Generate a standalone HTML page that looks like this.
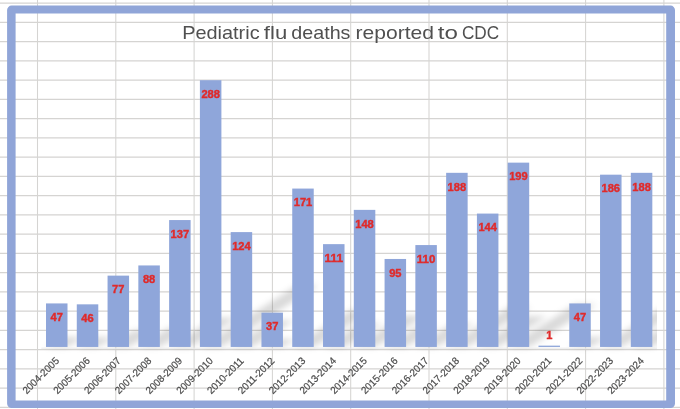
<!DOCTYPE html>
<html lang="en"><head><meta charset="utf-8"><title>Pediatric flu deaths reported to CDC</title>
<style>html,body{margin:0;padding:0;background:#fff}body{width:680px;height:409px;overflow:hidden}svg{display:block}</style></head>
<body>
<svg width="680" height="409" viewBox="0 0 680 409">
<defs><filter id="b" x="-10%" y="-30%" width="120%" height="160%"><feGaussianBlur stdDeviation="3"/></filter><clipPath id="pc"><rect x="41" y="60" width="616" height="300"/></clipPath></defs>
<rect width="680" height="409" fill="#fff"/>
<path d="M0 3.10H680M0 22.35H680M0 41.60H680M0 60.85H680M0 80.10H680M0 99.35H680M0 118.60H680M0 137.85H680M0 157.10H680M0 176.35H680M0 195.60H680M0 214.85H680M0 234.10H680M0 253.35H680M0 272.60H680M0 291.85H680M0 311.10H680M0 330.35H680M0 349.60H680M0 368.85H680M0 388.10H680M0 407.35H680M37.50 0V409M115.80 0V409M194.10 0V409M272.40 0V409M350.70 0V409M429.00 0V409M507.30 0V409M585.60 0V409M663.90 0V409" stroke="#D5D4D2" stroke-width="1.05" fill="none"/>
<g clip-path="url(#pc)"><g filter="url(#b)"><path d="M46.00 346.95L67.50 346.95L83.34 336.94L61.84 336.94ZM76.78 346.95L98.28 346.95L113.79 337.15L92.29 337.15ZM107.56 346.95L129.06 346.95L155.02 330.55L133.52 330.55ZM138.34 346.95L159.84 346.95L189.51 328.20L168.01 328.20ZM169.12 346.95L190.62 346.95L236.80 317.77L215.30 317.77ZM199.90 346.95L221.40 346.95L318.49 285.60L296.99 285.60ZM230.68 346.95L252.18 346.95L293.98 320.53L272.48 320.53ZM261.46 346.95L282.96 346.95L295.43 339.07L273.93 339.07ZM292.24 346.95L313.74 346.95L371.39 310.52L349.89 310.52ZM323.02 346.95L344.52 346.95L381.94 323.30L360.44 323.30ZM353.80 346.95L375.30 346.95L425.19 315.42L403.69 315.42ZM384.58 346.95L406.08 346.95L438.11 326.71L416.61 326.71ZM415.36 346.95L436.86 346.95L473.94 323.52L452.44 323.52ZM446.14 346.95L467.64 346.95L531.02 306.90L509.52 306.90ZM476.92 346.95L498.42 346.95L546.96 316.27L525.46 316.27ZM507.70 346.95L529.20 346.95L596.28 304.56L574.78 304.56ZM538.48 346.95L559.98 346.95L560.32 346.74L538.82 346.74ZM569.26 346.95L590.76 346.95L606.60 336.94L585.10 336.94ZM600.04 346.95L621.54 346.95L684.24 307.33L662.74 307.33ZM630.82 346.95L652.32 346.95L715.70 306.90L694.20 306.90Z" fill="#000" fill-opacity="0.15"/></g></g>
<path d="M41.3 348.2H657" stroke="#EAEAEA" stroke-width="1" fill="none"/>
<g fill="#8FA6DA"><rect x="46.00" y="303.42" width="21.5" height="43.53"/><rect x="76.78" y="304.34" width="21.5" height="42.61"/><rect x="107.56" y="275.63" width="21.5" height="71.32"/><rect x="138.34" y="265.44" width="21.5" height="81.51"/><rect x="169.12" y="220.06" width="21.5" height="126.89"/><rect x="199.90" y="80.20" width="21.5" height="266.75"/><rect x="230.68" y="232.10" width="21.5" height="114.85"/><rect x="261.46" y="312.68" width="21.5" height="34.27"/><rect x="292.24" y="188.57" width="21.5" height="158.38"/><rect x="323.02" y="244.14" width="21.5" height="102.81"/><rect x="353.80" y="209.87" width="21.5" height="137.08"/><rect x="384.58" y="258.96" width="21.5" height="87.99"/><rect x="415.36" y="245.07" width="21.5" height="101.88"/><rect x="446.14" y="172.82" width="21.5" height="174.13"/><rect x="476.92" y="213.58" width="21.5" height="133.37"/><rect x="507.70" y="162.64" width="21.5" height="184.31"/><rect x="538.48" y="345.65" width="21.5" height="1.30"/><rect x="569.26" y="303.42" width="21.5" height="43.53"/><rect x="600.04" y="174.68" width="21.5" height="172.27"/><rect x="630.82" y="172.82" width="21.5" height="174.13"/></g>
<g font-family="'Liberation Sans', Arial, sans-serif" font-weight="700" font-size="10.8" fill="#E02A2A" stroke="#E02A2A" stroke-width="0.4" text-anchor="middle">
<text x="56.75" y="321.22" textLength="12.34" lengthAdjust="spacingAndGlyphs">47</text>
<text x="87.53" y="322.14" textLength="12.34" lengthAdjust="spacingAndGlyphs">46</text>
<text x="118.31" y="293.43" textLength="12.34" lengthAdjust="spacingAndGlyphs">77</text>
<text x="149.09" y="283.24" textLength="12.34" lengthAdjust="spacingAndGlyphs">88</text>
<text x="179.87" y="237.86" textLength="18.51" lengthAdjust="spacingAndGlyphs">137</text>
<text x="210.65" y="98.00" textLength="18.51" lengthAdjust="spacingAndGlyphs">288</text>
<text x="241.43" y="249.90" textLength="18.51" lengthAdjust="spacingAndGlyphs">124</text>
<text x="272.21" y="330.48" textLength="12.34" lengthAdjust="spacingAndGlyphs">37</text>
<text x="302.99" y="206.37" textLength="18.51" lengthAdjust="spacingAndGlyphs">171</text>
<text x="333.77" y="261.94" textLength="18.51" lengthAdjust="spacingAndGlyphs">111</text>
<text x="364.55" y="227.67" textLength="18.51" lengthAdjust="spacingAndGlyphs">148</text>
<text x="395.33" y="276.76" textLength="12.34" lengthAdjust="spacingAndGlyphs">95</text>
<text x="426.11" y="262.87" textLength="18.51" lengthAdjust="spacingAndGlyphs">110</text>
<text x="456.89" y="190.62" textLength="18.51" lengthAdjust="spacingAndGlyphs">188</text>
<text x="487.67" y="231.38" textLength="18.51" lengthAdjust="spacingAndGlyphs">144</text>
<text x="518.45" y="180.44" textLength="18.51" lengthAdjust="spacingAndGlyphs">199</text>
<text x="549.23" y="339.02" textLength="6.17" lengthAdjust="spacingAndGlyphs">1</text>
<text x="580.01" y="321.22" textLength="12.34" lengthAdjust="spacingAndGlyphs">47</text>
<text x="610.79" y="192.48" textLength="18.51" lengthAdjust="spacingAndGlyphs">186</text>
<text x="641.57" y="190.62" textLength="18.51" lengthAdjust="spacingAndGlyphs">188</text>
</g>
<g font-family="'Liberation Sans', Arial, sans-serif" font-size="10.2" fill="#4A4A4A" stroke="#4A4A4A" stroke-width="0.2" text-anchor="end">
<text transform="translate(59.75 361.5) rotate(-45)" textLength="46.8" lengthAdjust="spacingAndGlyphs">2004-2005</text>
<text transform="translate(90.53 361.5) rotate(-45)" textLength="46.8" lengthAdjust="spacingAndGlyphs">2005-2006</text>
<text transform="translate(121.31 361.5) rotate(-45)" textLength="46.8" lengthAdjust="spacingAndGlyphs">2006-2007</text>
<text transform="translate(152.09 361.5) rotate(-45)" textLength="46.8" lengthAdjust="spacingAndGlyphs">2007-2008</text>
<text transform="translate(182.87 361.5) rotate(-45)" textLength="46.8" lengthAdjust="spacingAndGlyphs">2008-2009</text>
<text transform="translate(213.65 361.5) rotate(-45)" textLength="46.8" lengthAdjust="spacingAndGlyphs">2009-2010</text>
<text transform="translate(244.43 361.5) rotate(-45)" textLength="46.8" lengthAdjust="spacingAndGlyphs">2010-2011</text>
<text transform="translate(275.21 361.5) rotate(-45)" textLength="46.8" lengthAdjust="spacingAndGlyphs">2011-2012</text>
<text transform="translate(305.99 361.5) rotate(-45)" textLength="46.8" lengthAdjust="spacingAndGlyphs">2012-2013</text>
<text transform="translate(336.77 361.5) rotate(-45)" textLength="46.8" lengthAdjust="spacingAndGlyphs">2013-2014</text>
<text transform="translate(367.55 361.5) rotate(-45)" textLength="46.8" lengthAdjust="spacingAndGlyphs">2014-2015</text>
<text transform="translate(398.33 361.5) rotate(-45)" textLength="46.8" lengthAdjust="spacingAndGlyphs">2015-2016</text>
<text transform="translate(429.11 361.5) rotate(-45)" textLength="46.8" lengthAdjust="spacingAndGlyphs">2016-2017</text>
<text transform="translate(459.89 361.5) rotate(-45)" textLength="46.8" lengthAdjust="spacingAndGlyphs">2017-2018</text>
<text transform="translate(490.67 361.5) rotate(-45)" textLength="46.8" lengthAdjust="spacingAndGlyphs">2018-2019</text>
<text transform="translate(521.45 361.5) rotate(-45)" textLength="46.8" lengthAdjust="spacingAndGlyphs">2019-2020</text>
<text transform="translate(552.23 361.5) rotate(-45)" textLength="46.8" lengthAdjust="spacingAndGlyphs">2020-2021</text>
<text transform="translate(583.01 361.5) rotate(-45)" textLength="46.8" lengthAdjust="spacingAndGlyphs">2021-2022</text>
<text transform="translate(613.79 361.5) rotate(-45)" textLength="46.8" lengthAdjust="spacingAndGlyphs">2022-2023</text>
<text transform="translate(644.57 361.5) rotate(-45)" textLength="46.8" lengthAdjust="spacingAndGlyphs">2023-2024</text>
</g>
<g font-family="'Liberation Sans', Arial, sans-serif" font-size="18.2" fill="#505050">
<text x="182.16" y="38.7" textLength="77.44" lengthAdjust="spacingAndGlyphs">Pediatric</text>
<text x="263.89" y="38.7" textLength="23.34" lengthAdjust="spacingAndGlyphs">flu</text>
<text x="291.37" y="38.7" textLength="59.07" lengthAdjust="spacingAndGlyphs">deaths</text>
<text x="355.53" y="38.7" textLength="78.45" lengthAdjust="spacingAndGlyphs">reported</text>
<text x="437.76" y="38.7" textLength="20.16" lengthAdjust="spacingAndGlyphs">to</text>
<text x="461.9" y="38.7" textLength="37.26" lengthAdjust="spacingAndGlyphs">CDC</text>
</g>
<path d="M11.6 5.6H670.5A4.5 4.5 0 0 1 675.0 10.1V403.6A4.5 4.5 0 0 1 670.5 408.1H11.6A4.5 4.5 0 0 1 7.1 403.6V10.1A4.5 4.5 0 0 1 11.6 5.6ZM15.6 13.45V400.4H666.2V13.45Z" fill="#90A5D8" fill-rule="evenodd"/>
</svg>
</body></html>
